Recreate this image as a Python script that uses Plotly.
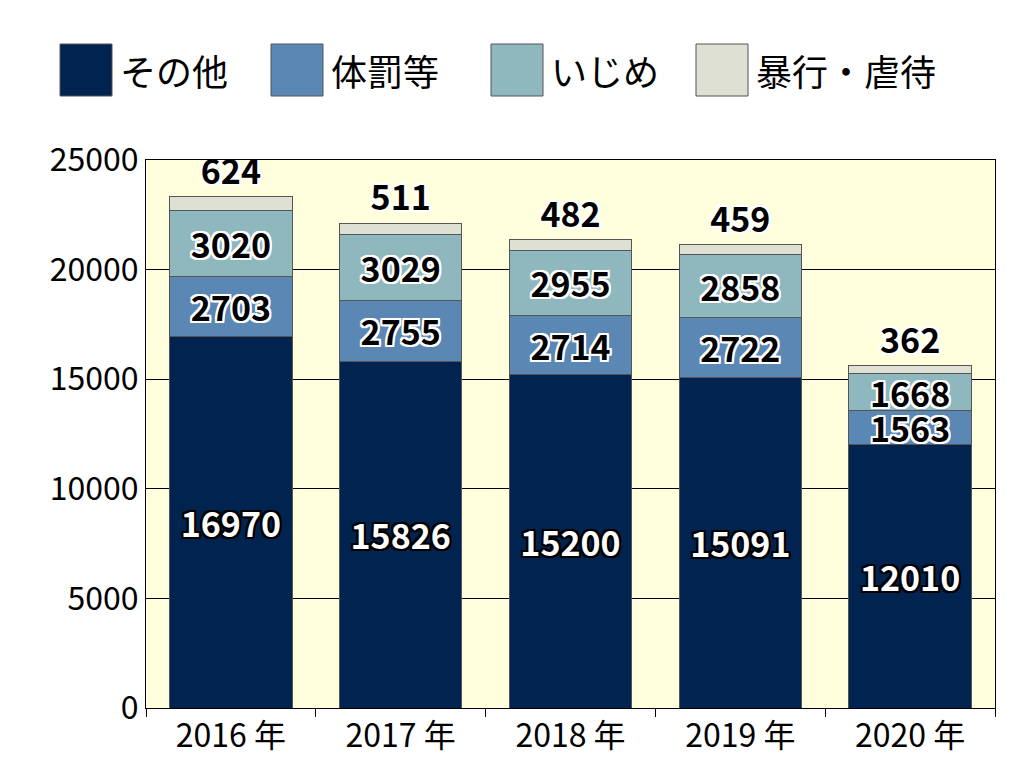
import plotly.graph_objects as go

years = ["2016 年", "2017 年", "2018 年", "2019 年", "2020 年"]
sonota = [16970, 15826, 15200, 15091, 12010]
taibatsu = [2703, 2755, 2714, 2722, 1563]
ijime = [3020, 3029, 2955, 2858, 1668]
bouko = [624, 511, 482, 459, 362]
names = ["その他", "体罰等", "いじめ", "暴行・虐待"]
colors = ["#002350", "#5b87b5", "#8fb7be", "#dde0d3"]

FONT = "Noto Sans CJK JP"
wsh = ",".join(f"{x}px {y}px 0 white" for x in (-2, 0, 2) for y in (-2, 0, 2))
bsh = ",".join(f"{x}px {y}px 0 black" for x in (-2, 0, 2) for y in (-2, 0, 2))

fig = go.Figure()
series = [sonota, taibatsu, ijime, bouko]
for i, (nm, vals) in enumerate(zip(names, series)):
    dark = i == 0
    fig.add_bar(
        x=years, y=vals, name=nm, marker=dict(color=colors[i], line=dict(color="#555", width=1)),
        text=[str(v) for v in vals],
        textposition="outside" if i == 3 else "inside",
        insidetextanchor="middle", cliponaxis=False, constraintext="none",
        textfont=dict(family=FONT, size=34, weight="bold",
                      color="white" if dark else "black",
                      shadow=bsh if dark else wsh),
        width=0.72, showlegend=False,
    )

shapes, annos = [], []
for i, nm in enumerate(names):
    x0 = [52, 263, 483, 688][i]
    shapes.append(dict(type="rect", xref="paper", yref="paper",
                       x0=(x0 - 138) / 849, x1=(x0 + 52 - 138) / 849,
                       y0=(700 - 88) / 548, y1=(700 - 36) / 548,
                       fillcolor=colors[i], line=dict(color="#555", width=1)))
    annos.append(dict(xref="paper", yref="paper", x=(x0 + 58 - 138) / 849,
                      y=(700 - 62) / 548, text=nm, showarrow=False, xanchor="left",
                      yanchor="middle", yshift=0,
                      font=dict(family=FONT, size=36, color="black")))

fig.update_layout(
    barmode="stack", width=1024, height=768,
    margin=dict(l=138, r=37, t=152, b=68),
    paper_bgcolor="white", plot_bgcolor="#ffffde",
    shapes=shapes, annotations=annos,
    font=dict(family=FONT, color="black"),
)
fig.update_xaxes(showline=True, linecolor="black", mirror=True, ticks="outside",
                 tickson="boundaries", ticklen=8, tickcolor="black", automargin=False,
                 tickfont=dict(size=32, family=FONT))
fig.update_yaxes(range=[0, 25000], dtick=5000, tickformat="d", showline=True, linecolor="black",
                 mirror=True, automargin=False,
                 gridcolor="black", gridwidth=1, tickfont=dict(size=32, family=FONT),
                 ticks="", zeroline=False)
fig.write_html("out.html")
